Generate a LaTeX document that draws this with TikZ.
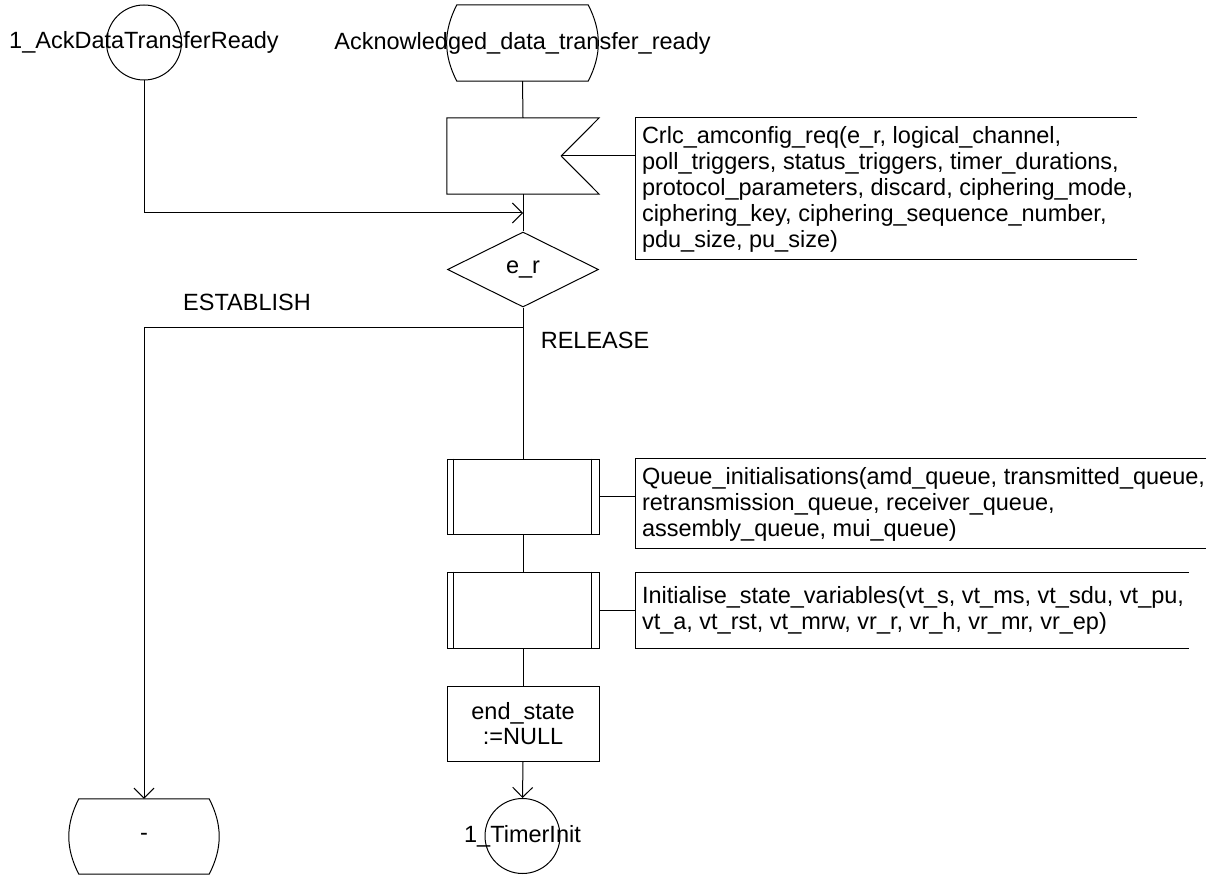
\documentclass[tikz,border=0pt]{standalone}
\usepackage{fontspec}
\setmainfont{Liberation Sans}
\usetikzlibrary{arrows.meta,shapes.geometric,calc}

\tikzset{
  sdl/.style={line width=1pt, line join=miter},
  lbl/.style={font=\fontsize{23.5}{24.5}\selectfont, inner sep=0pt, align=center},
  note/.style={font=\fontsize{23.5}{26}\selectfont, inner sep=0pt, align=left, anchor=west},
  frame/.style={draw=none, rectangle, inner sep=0pt, minimum width=#1},
  conn/.style={draw, circle, line width=1pt, inner sep=0pt, minimum size=75pt},
  flow/.style={sdl, -{Straight Barb[length=10pt,width=20pt,line width=1pt]}},
}

\begin{document}
\begin{tikzpicture}[x=1pt, y=-1pt]
\useasboundingbox (0,0) rectangle (1223,877);

% ---- start state and its connector ----
\node[frame=131pt, minimum height=76pt] (st) at (522.5,43) {};
\draw[sdl] (st.north west) -- (st.north east)
  to[bend left=27] (st.south east)
  -- (st.south west)
  to[bend left=27] cycle;
\node[lbl] (stl) at (st.center) {Acknowledged\_data\_transfer\_ready};

\node[conn] (c1) at (144,42.5) {};
\node[lbl] (c1l) at (c1.center) {1\_AckDataTransferReady};

% ---- signal input ----
\node[frame=152pt, minimum height=76pt] (sig) at (523,156) {};
\coordinate (notch) at ($(sig.east)+(-38,0)$);
\draw[sdl] (sig.north west) -- (sig.north east) -- (notch)
  -- (sig.south east) -- (sig.south west) -- cycle;

\node[frame=501pt, minimum height=141pt] (k1) at (886.5,188.5) {};
\draw[sdl] (k1.north east) -- (k1.north west) -- (k1.south west) -- (k1.south east);
\node[note] (k1t) at ($(k1.west)+(6,1)$) {Crlc\_amconfig\_req(e\_r, logical\_channel,\\
poll\_triggers, status\_triggers, timer\_durations,\\
protocol\_parameters, discard, ciphering\_mode,\\
ciphering\_key, ciphering\_sequence\_number,\\
pdu\_size, pu\_size)};

% ---- decision ----
\node[draw, sdl, diamond, inner sep=0pt, minimum width=151pt, minimum height=75pt] (dec) at (523,269.5) {};
\node[lbl] (decl) at (dec.center) {e\_r};
\coordinate (br) at (523,327);
\coordinate (m1) at (523,213);
\node[lbl] (est) at (247,302) {ESTABLISH};
\node[lbl] (rel) at (595,340) {RELEASE};

% ---- procedure calls ----
\node[frame=152pt, minimum height=75pt, draw, sdl] (q1) at (523,496.5) {};
\draw[sdl] ($(q1.north west)+(7,0)$) -- ($(q1.south west)+(7,0)$);
\draw[sdl] ($(q1.north east)+(-8,0)$) -- ($(q1.south east)+(-8,0)$);
\node[frame=570pt, minimum height=89pt] (k2) at (921,503.5) {};
\draw[sdl] (k2.north east) -- (k2.north west) -- (k2.south west) -- (k2.south east);
\node[note] (k2t) at ($(k2.west)+(6,1)$) {Queue\_initialisations(amd\_queue, transmitted\_queue,\\
retransmission\_queue, receiver\_queue,\\
assembly\_queue, mui\_queue)};

\node[frame=152pt, minimum height=76pt, draw, sdl] (q2) at (523,610) {};
\draw[sdl] ($(q2.north west)+(7,0)$) -- ($(q2.south west)+(7,0)$);
\draw[sdl] ($(q2.north east)+(-8,0)$) -- ($(q2.south east)+(-8,0)$);
\node[frame=553pt, minimum height=76pt] (k3) at (912.5,610.5) {};
\draw[sdl] (k3.north east) -- (k3.north west) -- (k3.south west) -- (k3.south east);
\node[note] (k3t) at ($(k3.west)+(6,0)$) {Initialise\_state\_variables(vt\_s, vt\_ms, vt\_sdu, vt\_pu,\\
vt\_a, vt\_rst, vt\_mrw, vr\_r, vr\_h, vr\_mr, vr\_ep)};

% ---- task ----
\node[frame=152pt, minimum height=75pt, draw, sdl] (task) at (523,723.5) {};
\node[lbl] (taskl) at (task.center) {end\_state\\:=NULL};

% ---- terminators ----
\node[conn] (c2) at (522.5,836) {};
\node[lbl] (c2l) at (c2.center) {1\_TimerInit};

\node[frame=130pt, minimum height=75pt] (nx) at (144,836.5) {};
\draw[sdl] (nx.north west) -- (nx.north east)
  to[bend left=27] (nx.south east)
  -- (nx.south west)
  to[bend left=27] cycle;
\node[lbl] (nxl) at (nx.center) {-};

% ---- connectors ----
\draw[sdl] (st.south) -- (sig.north);
\draw[flow] (c1.south) |- (m1);
\draw[sdl] (sig.south) -- (dec.north);
\draw[sdl] (notch) -- (notch -| k1.west);
\draw[sdl] (dec.south) -- (br);
\draw[flow] (br) -| (nx.north);
\draw[sdl] (br) -- (q1.north);
\draw[sdl] (q1.east) -- (q1.east -| k2.west);
\draw[sdl] (q1.south) -- (q2.north);
\draw[sdl] (q2.east) -- (q2.east -| k3.west);
\draw[sdl] (q2.south) -- (task.north);
\draw[flow] (task.south) -- (c2.north);
\end{tikzpicture}
\end{document}
